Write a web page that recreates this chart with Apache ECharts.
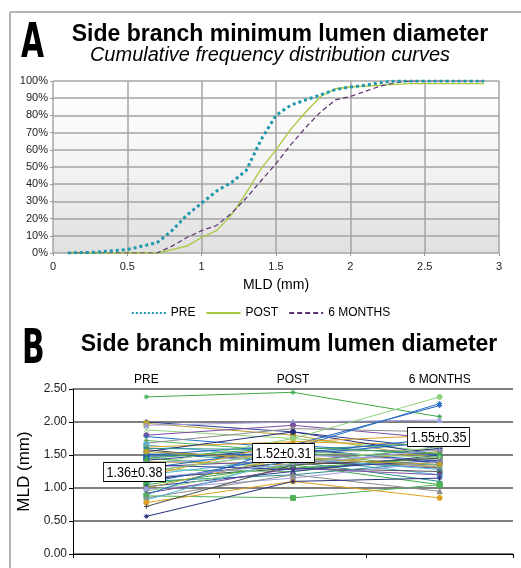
<!DOCTYPE html>
<html>
<head>
<meta charset="utf-8">
<script src="https://cdn.jsdelivr.net/npm/echarts@6/dist/echarts.min.js"></script>
<style>
  html, body { margin: 0; padding: 0; background: #fff; }
  #chart { width: 521px; height: 568px; }
</style>
</head>
<body>
<div id="chart"></div>
<script>
// Panel A - cumulative frequency distribution (MLD in mm, % of lesions)
const mldSteps = [0.1, 0.3, 0.5, 0.7, 0.8, 0.9, 1.0, 1.1, 1.2, 1.3, 1.4, 1.5, 1.6, 1.7, 1.8, 1.9, 2.0, 2.1, 2.2, 2.3, 2.4, 2.5, 2.9]
const cumPre = [0, 0.5, 2, 6, 13, 22, 29, 36, 41, 48, 66, 80, 86, 89, 92, 95, 96.5, 97.5, 99, 100, 100, 100, 100]
const cumPost = [0, 0, 0, 0, 2, 4, 9, 13, 22, 35, 49, 60, 72, 82, 91, 95.5, 96.5, 97, 97.5, 98, 98.5, 98.5, 98.5]
const cum6m = [0, 0, 0, 0, 4, 9, 13, 16, 23, 32, 42, 52, 63, 73, 82, 89, 91, 94, 97, 99, 100, 100, 100]

// Panel B - per lesion MLD (mm)
const groups = ['PRE', 'POST', '6 MONTHS']
const mldPre = [2.38, 2.00, 1.98, 1.95, 1.88, 1.80, 1.78, 1.72, 1.68, 1.65, 1.62, 1.58, 1.55, 1.52, 1.50, 1.45, 1.42, 1.40, 1.38, 1.35, 1.32, 1.30, 1.28, 1.25, 1.20, 1.18, 1.15, 1.12, 1.10, 1.08, 1.05, 1.02, 1.00, 0.98, 0.95, 0.92, 0.90, 0.88, 0.85, 0.82, 0.78, 0.72, 0.57, 1.60, 1.48, 1.45, 1.35, 1.55, 1.15, 1.25]
const mldPost = [2.45, 1.85, 1.80, 2.00, 1.75, 1.95, 1.60, 1.55, 1.90, 1.45, 1.70, 1.38, 1.85, 1.40, 1.65, 1.30, 1.60, 1.35, 1.50, 1.75, 1.42, 1.60, 1.25, 1.55, 1.45, 1.70, 1.30, 1.40, 1.20, 1.50, 1.35, 1.25, 1.48, 1.15, 1.38, 1.30, 1.65, 0.85, 1.20, 1.45, 1.10, 1.35, 1.10, 1.58, 1.52, 1.62, 1.28, 1.44, 1.36, 1.55]
const mld6m = [2.08, 1.60, 1.45, 2.03, 1.55, 1.75, 1.40, 1.30, 1.85, 1.20, 1.65, 1.35, 1.50, 1.10, 2.25, 1.45, 1.38, 1.55, 1.42, 2.38, 1.30, 2.28, 1.48, 1.58, 1.35, 1.80, 1.25, 1.60, 1.40, 1.70, 1.05, 1.50, 1.32, 1.40, 1.62, 1.20, 1.50, 1.05, 0.95, 1.28, 0.85, 1.45, 1.15, 1.68, 1.75, 1.52, 1.42, 1.36, 1.58, 1.46]
const summaryLabels = ['1.36±0.38', '1.52±0.31', '1.55±0.35']

const palette = ['#3DAA4A', '#2F3E8F', '#B8A032', '#9C9CE0', '#8FD27E', '#7A4E9E', '#2272C3', '#52B35A',
  '#8A8A8A', '#4FB3D9', '#E0A020', '#4A4A4A', '#26307A', '#2A8F8F', '#1F5FBF']
const markers = [
  'path://M0,5L10,5M5,0L5,10M1.5,1.5L8.5,8.5M8.5,1.5L1.5,8.5',
  'diamond', 'rect', 'triangle',
  'path://M0,0L10,10M10,0L0,10',
  'circle',
  'path://M0,5L10,5M5,0L5,10',
]

const sans = '"Liberation Sans", Arial, sans-serif'
const heavy = '"DejaVu Sans", sans-serif'

function pairs(xs, ys) {
  return xs.map((x, i) => [x, ys[i]])
}

const lesionSeries = mldPre.map((v, i) => {
  const c = palette[i % palette.length]
  return {
    type: 'line',
    xAxisIndex: 1,
    yAxisIndex: 1,
    data: [v, mldPost[i], mld6m[i]],
    symbol: markers[i % markers.length],
    symbolSize: 5,
    lineStyle: { color: c, width: 1 },
    itemStyle: { color: c, borderColor: c, borderWidth: 1 },
    silent: true,
    z: 3,
  }
})

// 标注框（均值±标准差）
function summaryBox(x, y, text) {
  return {
    type: 'text', x, y, z: 10, scaleX: 0.84,
    style: { text, font: '15px ' + sans, fill: '#000', backgroundColor: '#fff', borderColor: '#000', borderWidth: 1, padding: [2, 3, 1, 3] },
  }
}

const chart = echarts.init(document.getElementById('chart'))

chart.setOption({
  animation: false,
  graphic: [
    // outer frame
    { type: 'line', shape: { x1: 10, y1: 12, x2: 521, y2: 12 }, style: { stroke: '#b4b4b4', lineWidth: 2 } },
    { type: 'line', shape: { x1: 10, y1: 12, x2: 10, y2: 568 }, style: { stroke: '#b4b4b4', lineWidth: 2 } },
    // panel letters
    { type: 'text', x: 21, y: 45, scaleX: 0.62, style: { text: 'A', font: 'bold 48px ' + heavy, fill: '#000', textVerticalAlign: 'middle' } },
    { type: 'text', x: 22, y: 351, scaleX: 0.62, style: { text: 'B', font: 'bold 48px ' + heavy, fill: '#000', textVerticalAlign: 'middle' } },
    // titles
    { type: 'text', x: 280, y: 35, style: { text: 'Side branch minimum lumen diameter', font: 'bold 23px ' + sans, fill: '#000', textAlign: 'center', textVerticalAlign: 'middle' } },
    { type: 'text', x: 270, y: 55, style: { text: 'Cumulative frequency distribution curves', font: 'italic 20px ' + sans, fill: '#000', textAlign: 'center', textVerticalAlign: 'middle' } },
    { type: 'text', x: 289, y: 345, style: { text: 'Side branch minimum lumen diameter', font: 'bold 23px ' + sans, fill: '#000', textAlign: 'center', textVerticalAlign: 'middle' } },
    summaryBox(104, 463, summaryLabels[0]),
    summaryBox(253, 444, summaryLabels[1]),
    summaryBox(408, 428, summaryLabels[2]),
  ],
  legend: {
    data: ['PRE', 'POST', '6 MONTHS'],
    left: 'center',
    top: 302,
    itemWidth: 34,
    itemHeight: 12,
    itemGap: 10,
    itemStyle: { opacity: 0 },
    textStyle: { fontFamily: sans, fontSize: 12, color: '#000' },
  },
  grid: [
    {
      left: 53, right: 22, top: 81, height: 172,
      show: true,
      borderWidth: 0,
      backgroundColor: {
        type: 'linear', x: 0, y: 0, x2: 0, y2: 1,
        colorStops: [{ offset: 0, color: '#ffffff' }, { offset: 0.45, color: '#f5f5f5' }, { offset: 1, color: '#e0e0e0' }],
      },
    },
    { left: 73, right: 8, top: 389, bottom: 14 },
  ],
  xAxis: [
    {
      gridIndex: 0,
      type: 'value',
      min: 0, max: 3, interval: 0.5,
      name: 'MLD (mm)',
      nameLocation: 'middle',
      nameGap: 25,
      nameTextStyle: { fontFamily: sans, fontSize: 14, color: '#000' },
      axisLine: { show: false },
      axisTick: { show: true, length: 3, lineStyle: { color: '#999' } },
      axisLabel: { fontFamily: sans, fontSize: 11, color: '#222', margin: 8 },
      splitLine: { lineStyle: { color: '#a5a5a5', width: 1.5 } },
    },
    {
      gridIndex: 1,
      type: 'category',
      data: groups,
      position: 'bottom',
      axisLine: { lineStyle: { color: '#000', width: 1 } },
      axisTick: { show: true, length: 4, lineStyle: { color: '#000' } },
      axisLabel: { show: false },
    },
    {
      gridIndex: 1,
      type: 'category',
      data: groups,
      position: 'top',
      axisLine: { show: false },
      axisTick: { show: false },
      axisLabel: { fontFamily: sans, fontSize: 12, color: '#000', margin: 3 },
    },
  ],
  yAxis: [
    {
      gridIndex: 0,
      type: 'value',
      min: 0, max: 100, interval: 10,
      axisLine: { show: false },
      axisTick: { show: true, length: 3, lineStyle: { color: '#999' } },
      axisLabel: { formatter: '{value}%', fontFamily: sans, fontSize: 11, color: '#222', margin: 5 },
      splitLine: { lineStyle: { color: '#a5a5a5', width: 1.5 } },
    },
    {
      gridIndex: 1,
      type: 'value',
      min: 0, max: 2.5, interval: 0.5,
      name: 'MLD (mm)',
      nameLocation: 'middle',
      nameGap: 36,
      nameTextStyle: { fontFamily: sans, fontSize: 17, color: '#000' },
      axisLine: { show: true, lineStyle: { color: '#000', width: 1 } },
      axisTick: { show: true, length: 4, lineStyle: { color: '#000' } },
      axisLabel: { formatter: (v) => v.toFixed(2), fontFamily: sans, fontSize: 12, color: '#222', margin: 6 },
      splitLine: { lineStyle: { color: '#555', width: 1.5 } },
    },
  ],
  series: [
    {
      name: 'PRE',
      type: 'line',
      xAxisIndex: 0, yAxisIndex: 0,
      data: pairs(mldSteps, cumPre),
      symbol: 'none',
      color: '#1f97ad',
      lineStyle: { type: 'dotted', width: 3, color: '#1f97ad' },
      z: 4,
    },
    {
      name: 'POST',
      type: 'line',
      xAxisIndex: 0, yAxisIndex: 0,
      data: pairs(mldSteps, cumPost),
      symbol: 'none',
      color: '#a7c83c',
      lineStyle: { type: 'solid', width: 1.3, color: '#a7c83c' },
      z: 3,
    },
    {
      name: '6 MONTHS',
      type: 'line',
      xAxisIndex: 0, yAxisIndex: 0,
      data: pairs(mldSteps, cum6m),
      symbol: 'none',
      color: '#5e3270',
      lineStyle: { type: [5, 3], width: 1.2, color: '#5e3270' },
      z: 3,
    },
    ...lesionSeries,
  ],
})
</script>
</body>
</html>
